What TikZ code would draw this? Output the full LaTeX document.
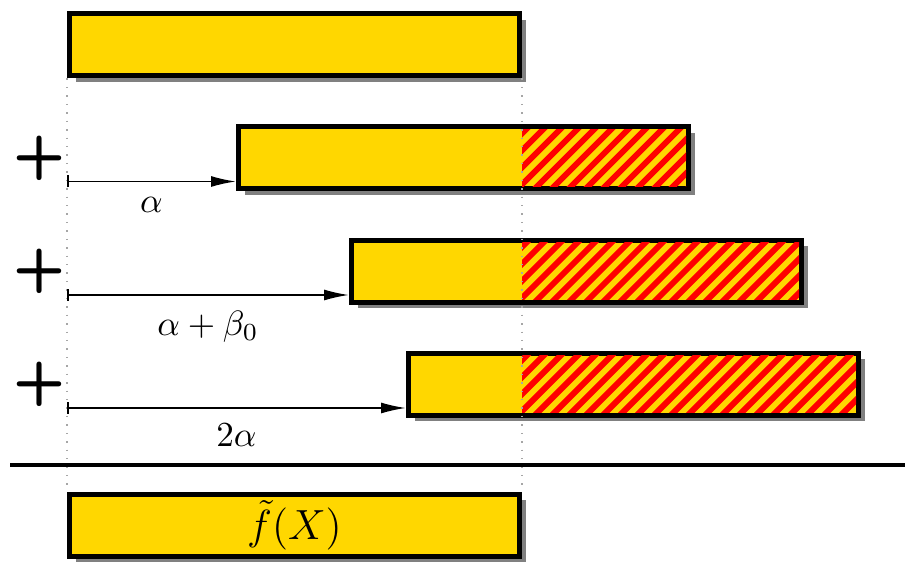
\documentclass[tikz,border=0pt]{standalone}
\usetikzlibrary{shadows,arrows.meta,calc}
\definecolor{bargold}{RGB}{255,215,0}
\begin{document}
\begin{tikzpicture}[
                bar/.style={
                    draw=black,
                    fill=bargold,
                    rectangle,
                    line width=0.05cm,
                    minimum width=4.5cm,
                    minimum height=0.62cm,
                    inner sep=0pt,
                    drop shadow={shadow xshift=0.06cm, shadow yshift=-0.06cm, fill=gray, opacity=1}
                },
                plussign/.style={
                    font=\LARGE\bfseries\sffamily
                },
                hatch/.style={
                    red,
                    line width=0.06cm
                },
                offset/.style={
                    {Bar[width=0.12cm,line width=0.7pt]}-{Latex[length=0.25cm,width=0.11cm]},
                    line width=0.5pt
                },
                guide/.style={
                    gray!70,
                    dotted,
                    thin
                }
            ]
                \useasboundingbox (0,0) rectangle (9.07,5.66);

                % the bars
                \node[bar, anchor=west] (b1) at (0.67,5.21)  {};
                \node[bar, anchor=west] (b2) at (2.36,4.08)  {};
                \node[bar, anchor=west] (b3) at (3.49,2.945) {};
                \node[bar, anchor=west] (b4) at (4.06,1.815) {};
                \node[bar, anchor=west, font=\large] (b5) at (0.67,0.41) {$\tilde{f}(X)$};

                % hatched parts
                \foreach \b in {b2,b3,b4} {
                    \begin{scope}
                        \clip ([yshift=0.05cm]\b.south -| b1.east) rectangle ([shift={(-0.05,-0.05)}]\b.north east);
                        \foreach \k in {0,...,27}
                            \draw[hatch] ($(\b.south -| b1.east)+(\k*0.17-0.75,0)$) -- ++(0.8,0.8);
                    \end{scope}
                }

                % guides
                \draw[guide] (b1.south west) -- (b5.north west);
                \draw[guide] (b1.south east) -- (b5.north east);

                % plus signs
                \node[plussign] (p2) at (0.39,4.08)  {+};
                \node[plussign] (p3) at (0.39,2.945) {+};
                \node[plussign] (p4) at (0.39,1.815) {+};

                % offsets
                \coordinate (a2) at ([yshift=-0.235cm]b2.west);
                \coordinate (a3) at ([yshift=-0.235cm]b3.west);
                \coordinate (a4) at ([yshift=-0.235cm]b4.west);
                \draw[offset] (b1.west |- a2) -- node[below=1pt] {$\alpha$} (a2);
                \draw[offset] (b1.west |- a3) -- node[below=1pt] {$\alpha+\beta_0$} (a3);
                \draw[offset] (b1.west |- a4) -- node[below=1pt] {$2\alpha$} (a4);

                % sum line
                \coordinate (s1) at (0.10,1.01);
                \coordinate (s2) at (9.05,1.01);
                \draw[line width=1pt] (s1) -- (s2);
        \end{tikzpicture}
\end{document}
